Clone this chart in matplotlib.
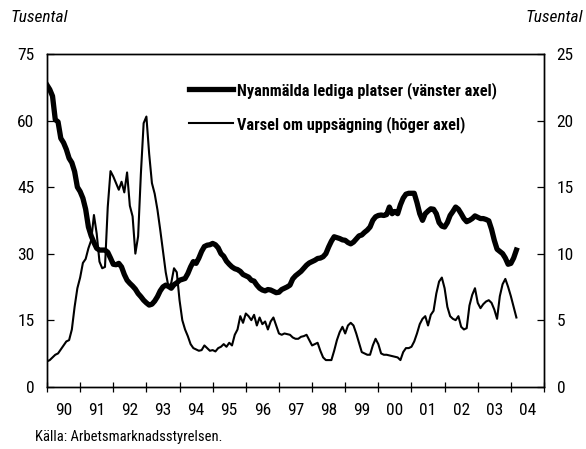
import numpy as np
import matplotlib
matplotlib.use("Agg")
import matplotlib.pyplot as plt
from matplotlib.ticker import FixedLocator, NullFormatter

plt.rcParams['font.family'] = ['Roboto Condensed', 'Archivo Narrow', 'DejaVu Sans']

# monthly data, Jan 1990 - Mar 2004 (thousands)
start_year = 1990
vacancies = [
    68.0, 67.0, 65.5, 60.2, 59.7, 56.0, 55.0, 53.5, 51.5, 50.5, 48.5, 45.0,   # 1990
    44.0, 42.5, 40.0, 36.0, 34.0, 32.5, 31.2, 30.8, 30.8, 30.8, 30.3, 29.0,   # 1991
    27.6, 27.5, 27.8, 27.0, 25.3, 24.0, 23.3, 22.7, 22.0, 21.0, 20.3, 19.5,   # 1992
    18.9, 18.4, 18.6, 19.3, 20.3, 21.6, 22.5, 22.9, 22.6, 22.2, 23.0, 23.4,   # 1993
    24.0, 24.2, 24.4, 25.5, 27.0, 28.2, 27.8, 29.0, 30.5, 31.6, 31.9, 32.0,   # 1994
    32.3, 32.0, 31.3, 30.0, 29.4, 28.3, 27.6, 27.0, 26.6, 26.4, 26.0, 25.3,   # 1995
    25.0, 24.7, 24.0, 23.8, 22.9, 22.2, 21.8, 21.6, 21.9, 21.8, 21.5, 21.2,   # 1996
    21.3, 21.9, 22.2, 22.5, 22.9, 24.3, 25.0, 25.5, 26.0, 26.7, 27.4, 27.9,   # 1997
    28.2, 28.5, 28.9, 29.0, 29.3, 30.0, 31.5, 32.8, 33.8, 33.6, 33.4, 33.1,   # 1998
    33.0, 32.5, 32.2, 32.6, 33.3, 34.0, 34.2, 34.8, 35.3, 36.0, 37.5, 38.3,   # 1999
    38.6, 38.7, 38.6, 38.8, 40.5, 39.0, 39.5, 39.0, 41.0, 42.5, 43.4, 43.6,   # 2000
    43.6, 43.6, 41.5, 39.0, 37.5, 39.0, 39.6, 40.1, 40.0, 39.0, 37.0, 36.2,   # 2001
    36.0, 37.0, 38.6, 39.5, 40.5, 40.0, 39.0, 37.9, 37.2, 37.5, 37.9, 38.5,   # 2002
    38.2, 37.9, 37.9, 37.7, 37.4, 35.5, 33.0, 31.0, 30.5, 30.0, 29.0, 27.6,   # 2003
    27.8, 29.0, 30.8,                                                          # 2004
]
layoffs = [
    1.9, 2.0, 2.2, 2.4, 2.5, 2.8, 3.1, 3.4, 3.5, 4.3, 6.0, 7.4,              # 1990
    8.2, 9.3, 9.6, 10.4, 11.0, 12.9, 11.5, 9.4, 8.9, 9.0, 13.5, 16.2,         # 1991
    15.8, 15.3, 14.8, 15.4, 14.6, 16.1, 13.6, 12.8, 10.0, 11.3, 16.0, 19.8,   # 1992
    20.3, 17.5, 15.3, 14.5, 13.3, 11.8, 10.2, 8.6, 7.5, 7.8, 8.9, 8.6,        # 1993
    6.5, 5.0, 4.3, 3.8, 3.2, 2.9, 2.8, 2.7, 2.75, 3.1, 2.9, 2.7,              # 1994
    2.75, 2.65, 2.9, 3.0, 3.2, 3.0, 3.3, 3.1, 3.9, 4.3, 5.3, 4.8,             # 1995
    5.5, 5.3, 5.0, 5.4, 4.6, 5.2, 4.7, 4.9, 4.3, 4.9, 5.2, 4.6,               # 1996
    4.0, 3.9, 4.0, 3.95, 3.9, 3.7, 3.6, 3.6, 3.75, 3.8, 3.9, 3.5,             # 1997
    3.1, 3.2, 3.3, 2.7, 2.2, 2.0, 2.0, 2.0, 2.7, 3.5, 4.1, 4.5,               # 1998
    4.0, 4.6, 4.8, 4.6, 4.0, 3.3, 2.6, 2.5, 2.4, 2.4, 3.1, 3.6,               # 1999
    3.2, 2.5, 2.4, 2.4, 2.35, 2.3, 2.25, 2.2, 2.0, 2.6, 2.9, 2.9,             # 2000
    3.0, 3.4, 4.0, 4.7, 5.1, 5.3, 4.6, 5.4, 5.7, 7.0, 7.9, 8.2,               # 2001
    7.4, 6.0, 5.3, 5.1, 5.0, 5.3, 4.5, 4.3, 4.4, 6.1, 6.9, 7.4,               # 2002
    6.3, 5.9, 6.2, 6.4, 6.5, 6.3, 5.8, 5.1, 6.8, 7.7, 8.1, 7.5,               # 2003
    6.8, 6.0, 5.2,                                                             # 2004
]
year_labels = ['90', '91', '92', '93', '94', '95', '96', '97', '98', '99',
               '00', '01', '02', '03', '04']
label_vac = 'Nyanmälda lediga platser (vänster axel)'
label_lay = 'Varsel om uppsägning (höger axel)'

x = start_year + np.arange(len(vacancies)) / 12.0

fig = plt.figure(figsize=(5.86, 4.49), dpi=100)
ax = fig.add_axes([47/586, 1 - 386.7/449, 497/586, 332.7/449])
ax2 = ax.twinx()

l1, = ax.plot(x, vacancies, color='black', lw=3.8, solid_joinstyle='round')
l2, = ax2.plot(x, layoffs, color='black', lw=1.5, solid_joinstyle='round')

ax.set_xlim(1990, 2005)
ax.set_ylim(0, 75)
ax2.set_ylim(0, 25)
ax.set_yticks(range(0, 76, 15))
ax2.set_yticks(range(0, 26, 5))

ax.xaxis.set_major_locator(FixedLocator(np.arange(1990, 2006)))
ax.xaxis.set_major_formatter(NullFormatter())
ax.xaxis.set_minor_locator(FixedLocator(np.arange(1990, 2005) + 0.5))
ax.set_xticklabels(year_labels, minor=True)
ax.tick_params(axis='x', which='major', direction='inout', length=7, width=0.9)
ax.tick_params(axis='x', which='minor', length=0, pad=12, labelsize=12.5)
ax.tick_params(axis='y', direction='in', length=5, width=0.9, pad=9, labelsize=12.5)
ax2.tick_params(axis='y', direction='in', length=5, width=0.9, pad=9, labelsize=12.5)

for a in (ax, ax2):
    for s in a.spines.values():
        s.set_linewidth(1.0)

fig.text(10/586, 1 - 18/449, 'Tusental', style='italic', fontsize=12.5, va='center', ha='left')
fig.text(583/586, 1 - 18/449, 'Tusental', style='italic', fontsize=12.5, va='center', ha='right')
fig.text(35/586, 1 - 437/449, 'Källa: Arbetsmarknadsstyrelsen.', fontsize=10.5, va='center', ha='left')

leg = ax.legend([l1, l2], [label_vac, label_lay], loc='upper left',
                bbox_to_anchor=(0.256, 0.96), frameon=False, handlelength=2.7,
                handletextpad=0.25, labelspacing=1.05, prop={'weight': 'bold', 'size': 11.7})

fig.savefig('out.png', dpi=100)
